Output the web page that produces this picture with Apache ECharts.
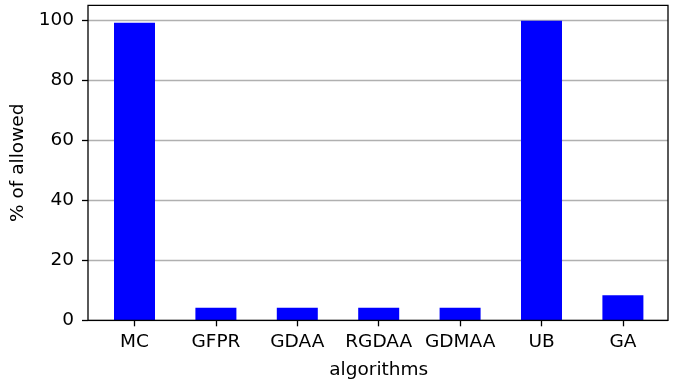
<!DOCTYPE html>
<html>
<head>
<meta charset="utf-8">
<script src="https://cdn.jsdelivr.net/npm/echarts@6/dist/echarts.min.js"></script>
<style>
  html, body { margin: 0; padding: 0; background: #fff; }
  #chart { width: 682px; height: 381px; }
</style>
</head>
<body>
<div id="chart"></div>
<script>
// Share of allowed runs per algorithm
const categories = ['MC', 'GFPR', 'GDAA', 'RGDAA', 'GDMAA', 'UB', 'GA'];
const allowedPct = [99.17, 4.17, 4.17, 4.17, 4.17, 99.83, 8.33];
const yTicks = [0, 20, 40, 60, 80, 100];

const FONT = 'DejaVu Sans';
const FS = 18.5;
const TOP = 5.3, BOTTOM = 60.7;

const chart = echarts.init(document.getElementById('chart'), null, { renderer: 'canvas' });
chart.setOption({
  animation: false,
  backgroundColor: '#fff',
  grid: [
    // frame with y axis and grid lines
    { left: 88, right: 14, top: TOP, bottom: BOTTOM, show: true, outerBoundsMode: 'none',
      containLabel: false,
      borderColor: '#000', borderWidth: 1.3, backgroundColor: 'transparent', z: 5 },
    // bar area (categories padded inside the frame)
    { left: 93.8, right: 18.4, top: TOP, bottom: BOTTOM, outerBoundsMode: 'none',
      containLabel: false }
  ],
  xAxis: [
    { gridIndex: 0, type: 'value', min: 0, max: 1, show: false },
    {
      gridIndex: 1, type: 'category', data: categories,
      name: 'algorithms', nameLocation: 'middle', nameGap: 40,
      nameTextStyle: { fontFamily: FONT, fontSize: FS, color: '#000' },
      axisLine: { show: false },
      axisTick: { show: true, alignWithLabel: true, length: 6,
        lineStyle: { color: '#000', width: 1.3 } },
      axisLabel: { fontFamily: FONT, fontSize: FS, color: '#000', margin: 12, interval: 0 },
      splitLine: { show: false }
    }
  ],
  yAxis: [
    {
      gridIndex: 0, type: 'value', min: 0, max: 105, interval: 20,
      name: '% of allowed', nameLocation: 'middle', nameGap: 57,
      nameTextStyle: { fontFamily: FONT, fontSize: FS, color: '#000' },
      axisLine: { show: false },
      axisTick: { show: true, length: 6, customValues: yTicks,
        lineStyle: { color: '#000', width: 1.3 } },
      axisLabel: { fontFamily: FONT, fontSize: FS, color: '#000', margin: 14,
        customValues: yTicks,
        formatter: v => (v % 20 === 0 ? String(v) : '') },
      splitLine: { show: true, lineStyle: { color: '#b0b0b0', width: 1.3 } }
    },
    { gridIndex: 1, type: 'value', min: 0, max: 105, show: false, splitLine: { show: false } }
  ],
  series: [{
    type: 'bar', xAxisIndex: 1, yAxisIndex: 1,
    data: allowedPct, barWidth: 41,
    itemStyle: { color: '#0000ff', borderWidth: 0, borderColor: 'transparent' }, z: 3
  }]
});
</script>
</body>
</html>
